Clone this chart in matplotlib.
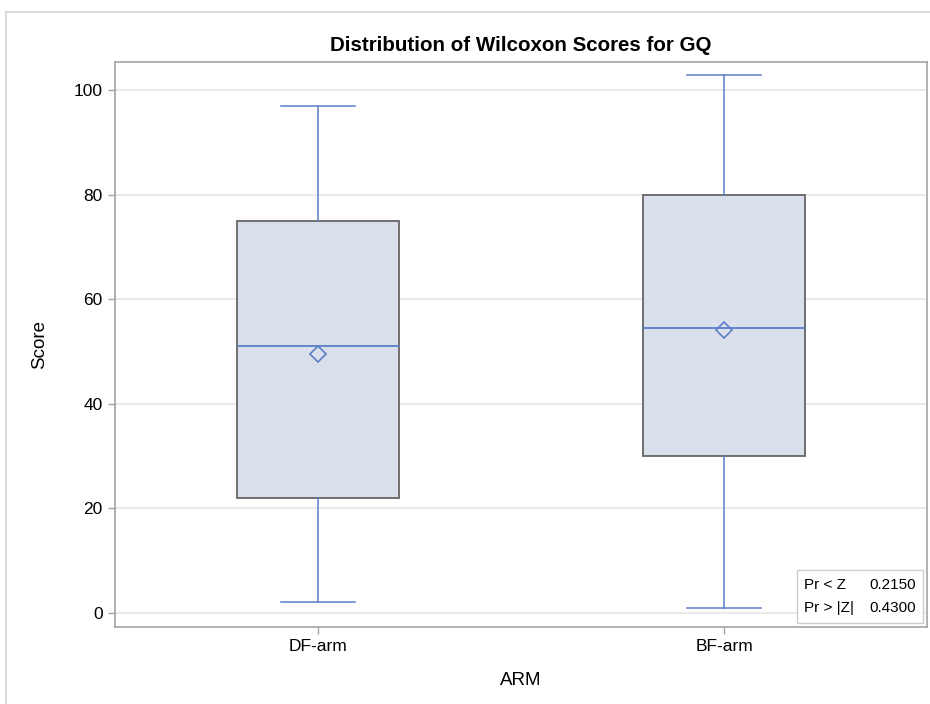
import matplotlib.pyplot as plt
from matplotlib.lines import Line2D

plt.rcParams['font.family'] = ['Liberation Sans', 'DejaVu Sans']

# Box plot summary
arms = ['DF-arm', 'BF-arm']
whisker_low = [2, 1]
q1 = [22, 30]
medians = [51, 54.5]
q3 = [75, 80]
whisker_high = [97, 103]
means = [49.5, 54.2]
yticks = [0, 20, 40, 60, 80, 100]
stats_labels = ['Pr < Z', 'Pr > |Z|']
stats_values = ['0.2150', '0.4300']

box_fill = '#DAE0EB'
box_edge = '#666666'
blue = '#5B7EC9'
axis_gray = '#A0A4A8'

stats = []
for i, name in enumerate(arms):
    stats.append({'label': name, 'whislo': whisker_low[i], 'q1': q1[i],
                  'med': medians[i], 'q3': q3[i], 'whishi': whisker_high[i],
                  'mean': means[i], 'fliers': []})

fig = plt.figure(figsize=(9.3, 7.04), dpi=100)
ax = fig.add_axes([115 / 930, 1 - 627 / 704, 812 / 930, 565 / 704])

ax.bxp(stats, positions=range(len(arms)), widths=0.4, showmeans=True,
       patch_artist=True, zorder=3,
       boxprops=dict(facecolor=box_fill, edgecolor=box_edge, linewidth=1.3),
       medianprops=dict(color=blue, linewidth=1.3),
       whiskerprops=dict(color=blue, linewidth=1.1),
       capprops=dict(color=blue, linewidth=1.1),
       capwidths=0.18,
       meanprops=dict(marker='D', markerfacecolor='none', markeredgecolor=blue,
                      markersize=8, markeredgewidth=1.2))

ax.set_xlim(-0.5, 1.5)
ax.set_ylim(-2.7, 105.4)
ax.set_yticks(yticks)
ax.set_xticks(range(len(arms)))
ax.set_xticklabels(arms)
ax.grid(axis='y', color='#E6E6E6', linewidth=1.2, zorder=0)
ax.set_axisbelow(True)
ax.tick_params(colors=axis_gray, labelcolor='black', labelsize=12.5, length=5, width=1)
ax.tick_params(axis='y', pad=4)
for s in ax.spines.values():
    s.set_color(axis_gray)
    s.set_linewidth(1.2)

ax.set_title('Distribution of Wilcoxon Scores for GQ', fontsize=14.8, fontweight='bold', pad=8)
ax.set_xlabel('ARM', fontsize=13.5, labelpad=13)
ax.set_ylabel('Score', fontsize=13.5, labelpad=18)

# p-value inset
ax.add_patch(plt.Rectangle((0.84, 0.007), 0.155, 0.094, transform=ax.transAxes,
                           facecolor='white', edgecolor='#CCCCCC', linewidth=1, zorder=4))
ax.text(0.848, 0.054, '\n'.join(stats_labels), transform=ax.transAxes, zorder=5,
        fontsize=11, va='center', ha='left', linespacing=1.75)
ax.text(0.986, 0.054, '\n'.join(stats_values), transform=ax.transAxes, zorder=5,
        fontsize=11, va='center', ha='right', linespacing=1.75)

# outer frame
fig.add_artist(Line2D([6 / 930, 6 / 930], [0, 1 - 12 / 704], color='#D4D4D4', linewidth=1.2))
fig.add_artist(Line2D([6 / 930, 1], [1 - 12 / 704, 1 - 12 / 704], color='#D4D4D4', linewidth=1.2))

fig.savefig('out.png', dpi=100)
